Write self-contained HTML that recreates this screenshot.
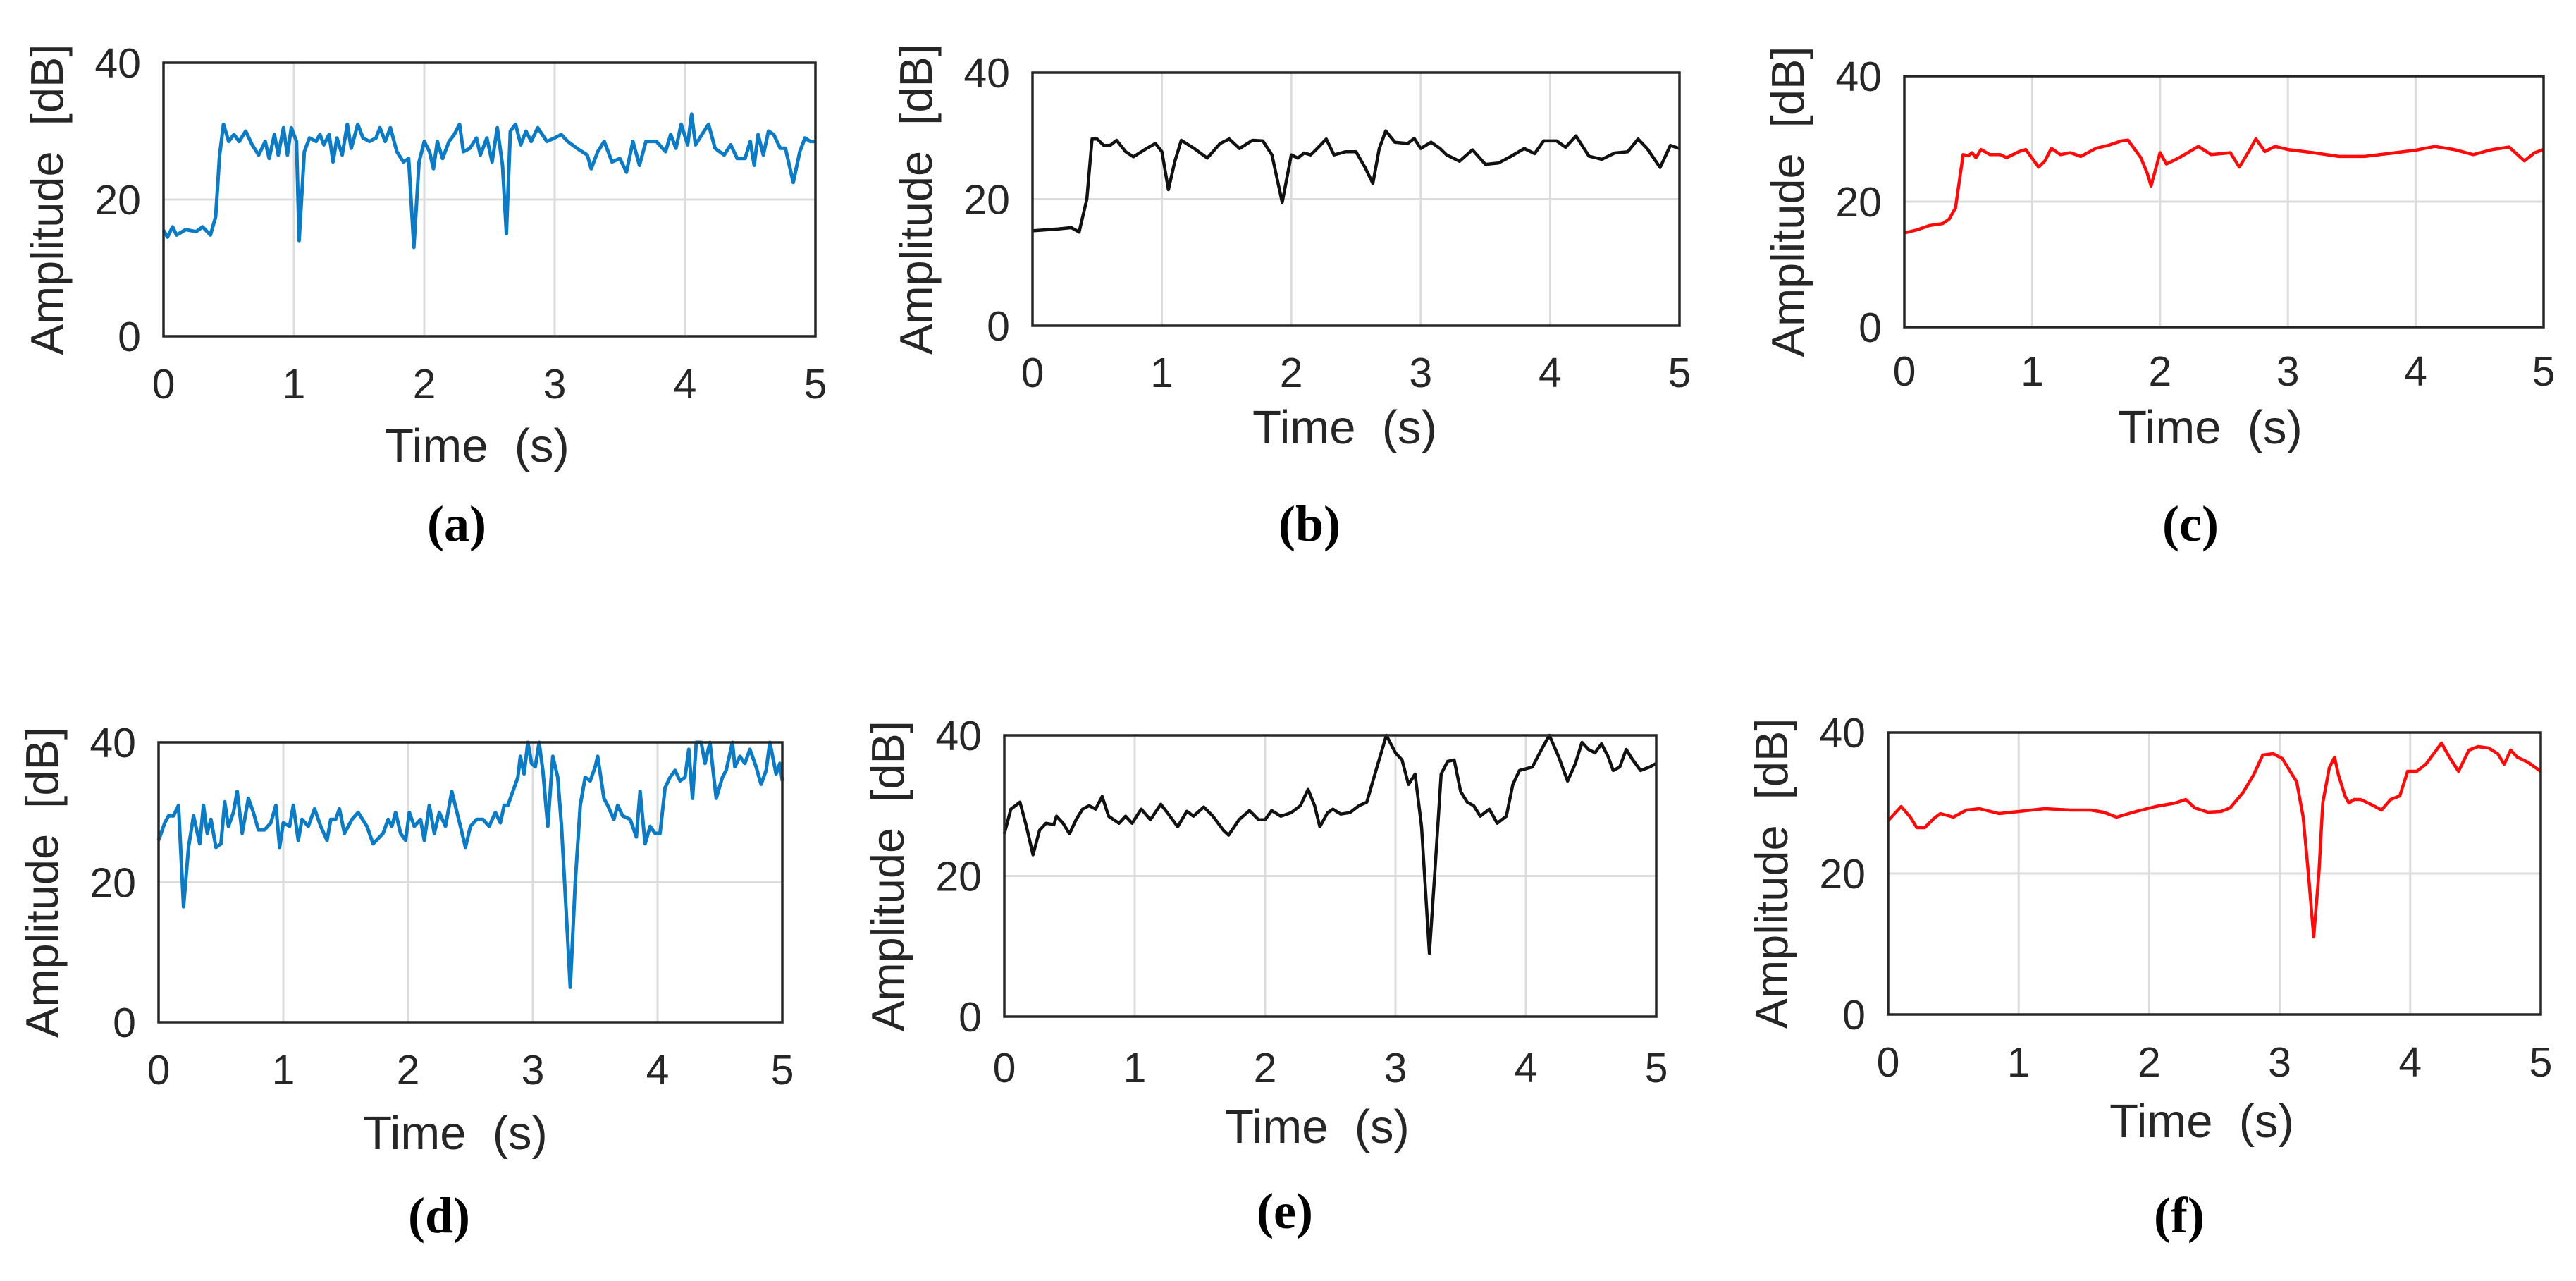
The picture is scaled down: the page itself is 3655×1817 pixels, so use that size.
<!DOCTYPE html>
<html><head><meta charset="utf-8">
<style>
html,body{margin:0;padding:0;background:#fff;}
svg{display:block;}
text{font-family:"Liberation Sans",sans-serif;fill:#262626;white-space:pre;}
.lbl{font-family:"Liberation Serif",serif;font-weight:bold;fill:#000;}
</style></head>
<body>
<svg id="fig" width="3655" height="1817" viewBox="0 0 3655 1817" xmlns="http://www.w3.org/2000/svg"></svg>
<script>
const xTicks=[0,1,2,3,4,5];
const yTicks=[0,20,40];
const tA=[0,0.03,0.07,0.1,0.17,0.25,0.3,0.36,0.4,0.43,0.46,0.5,0.54,0.58,0.63,0.68,0.73,0.78,0.81,0.85,0.88,0.92,0.95,0.98,1.02,1.04,1.08,1.12,1.17,1.2,1.23,1.27,1.3,1.33,1.37,1.41,1.44,1.49,1.53,1.58,1.63,1.66,1.7,1.74,1.79,1.84,1.88,1.92,1.96,2.0,2.04,2.07,2.1,2.14,2.19,2.23,2.27,2.3,2.35,2.4,2.43,2.48,2.52,2.56,2.6,2.63,2.66,2.7,2.74,2.78,2.82,2.87,2.94,3.0,3.05,3.1,3.17,3.25,3.28,3.33,3.38,3.44,3.5,3.55,3.6,3.65,3.7,3.78,3.85,3.89,3.93,3.97,4.02,4.05,4.08,4.13,4.18,4.23,4.3,4.35,4.4,4.46,4.5,4.53,4.56,4.6,4.64,4.68,4.73,4.77,4.83,4.88,4.92,4.96,5.0];
const vA=[15.5,14.5,16,14.8,15.6,15.3,16,14.8,17.5,26.5,31,28.5,29.5,28.5,30,28,26.5,28.5,26,29.5,26.5,30.5,26.5,30.5,28.5,14,27,29,28.5,29.5,28,29.5,25.5,29,26.5,31,27.5,31,29,28.5,29,30.5,28.5,30.5,27,25.5,26,13,25.5,28.5,27,24.5,28.5,26,28.5,29.5,31,27,27.5,29,26.5,29,25.5,30.5,25,15,30,31,28,30,28.5,30.5,28.5,29,29.5,28.5,27.5,26.5,24.5,27,28.5,25.5,26,24,28.5,25,28.5,28.5,27,29.5,27.5,31,28,32.5,28,29.5,31,27.5,26.5,28,26,26,28.5,25,29.5,26.5,30,29.5,27.5,27.5,22.5,27,29,28.5,28.5];
const tB=[0,0.2,0.3,0.36,0.42,0.46,0.5,0.55,0.6,0.65,0.72,0.78,0.88,0.95,1.0,1.05,1.1,1.15,1.25,1.35,1.45,1.52,1.6,1.7,1.78,1.85,1.93,2.0,2.05,2.1,2.15,2.2,2.27,2.33,2.42,2.5,2.57,2.63,2.68,2.73,2.8,2.9,2.95,3.0,3.08,3.15,3.2,3.3,3.4,3.5,3.6,3.7,3.8,3.88,3.95,4.05,4.12,4.2,4.3,4.4,4.5,4.6,4.68,4.75,4.85,4.93,5.0];
const vB=[15,15.3,15.5,14.8,20,29.5,29.5,28.5,28.5,29.3,27.5,26.7,28,28.8,27.5,21.5,26,29.3,28,26.5,28.8,29.5,28,29.3,29.2,27,19.5,27,26.5,27.3,27,28,29.5,27,27.5,27.5,25,22.5,28,30.8,29,28.8,29.6,28,29,28,27,26,27.8,25.5,25.7,26.8,28,27.2,29.2,29.2,28.2,30,26.8,26.3,27.3,27.5,29.5,28,25,28.5,28];
const tC=[0,0.1,0.2,0.3,0.35,0.4,0.46,0.5,0.53,0.56,0.6,0.67,0.75,0.8,0.9,0.95,1.05,1.1,1.15,1.22,1.3,1.38,1.5,1.6,1.7,1.75,1.85,1.9,1.93,2.0,2.05,2.15,2.3,2.4,2.55,2.62,2.7,2.75,2.82,2.9,3.0,3.2,3.4,3.6,3.8,4.0,4.15,4.3,4.45,4.6,4.73,4.85,4.93,5.0];
const vC=[15,15.5,16.2,16.5,17.2,19,27.5,27.3,27.8,27,28.3,27.5,27.5,27,28,28.3,25.5,26.5,28.5,27.5,27.8,27.2,28.5,29,29.7,29.8,27,24.5,22.5,27.8,26,27,28.8,27.5,27.8,25.5,28.2,30,28,28.8,28.3,27.8,27.2,27.2,27.7,28.2,28.8,28.3,27.5,28.3,28.7,26.5,27.8,28.3];
const tD=[0,0.05,0.08,0.12,0.16,0.2,0.24,0.28,0.33,0.36,0.39,0.42,0.46,0.5,0.53,0.56,0.6,0.63,0.67,0.72,0.76,0.8,0.85,0.9,0.94,0.97,1.0,1.05,1.08,1.12,1.15,1.2,1.25,1.3,1.35,1.38,1.42,1.45,1.49,1.55,1.6,1.67,1.72,1.8,1.84,1.87,1.9,1.94,1.98,2.01,2.05,2.1,2.13,2.17,2.21,2.25,2.3,2.35,2.42,2.46,2.5,2.55,2.6,2.65,2.7,2.74,2.77,2.8,2.84,2.88,2.9,2.93,2.96,2.99,3.02,3.05,3.08,3.12,3.16,3.2,3.23,3.27,3.3,3.34,3.38,3.42,3.46,3.5,3.52,3.57,3.6,3.65,3.68,3.72,3.78,3.83,3.86,3.9,3.94,3.98,4.02,4.06,4.1,4.14,4.18,4.22,4.25,4.28,4.31,4.35,4.38,4.42,4.47,4.52,4.55,4.6,4.62,4.66,4.7,4.74,4.79,4.83,4.87,4.9,4.95,4.98,5.0];
const vD=[26,28.5,29.5,29.5,31,16.5,25,29.5,25.5,31,27,29,25,25.5,31.5,28,30,33,27,32,30,27.5,27.5,28.5,31,25,28.5,28,31,26,29,28,30.5,28,26,29,29,30.5,27,29,30,28,25.5,27,29,28,30,27,26,30,28,29,26,31,27,30,28,33,28,25,28,29,29,28,30,28.5,31,31,33,35,38,35.5,40,37,36.5,40,36,28,38,35,28,15,5,20,31,35,34.5,36.5,38,32,31,29,31,29.5,29,26.5,33,25.5,28,27,27,33.5,35,36,34.5,35,39,32,40,40,37,40,32,35,36,40,36.5,38,37,39,36.5,34,36,40,35.5,37,34.5];
const tE=[0,0.05,0.12,0.17,0.22,0.27,0.32,0.38,0.4,0.45,0.5,0.55,0.6,0.65,0.7,0.75,0.8,0.88,0.93,0.98,1.05,1.12,1.2,1.25,1.33,1.4,1.45,1.53,1.6,1.68,1.72,1.8,1.88,1.95,2.0,2.05,2.12,2.2,2.27,2.33,2.38,2.42,2.48,2.52,2.58,2.65,2.72,2.78,2.85,2.93,3.0,3.05,3.1,3.15,3.2,3.26,3.3,3.35,3.4,3.45,3.5,3.55,3.6,3.65,3.72,3.78,3.85,3.9,3.95,4.05,4.12,4.18,4.25,4.32,4.38,4.43,4.48,4.53,4.58,4.63,4.67,4.72,4.77,4.82,4.88,4.95,5.0];
const vE=[26,29.5,30.5,27,23,26.5,27.5,27.3,28.5,27.5,26,28,29.5,30,29.5,31.3,28.5,27.5,28.5,27.5,29.5,28,30.2,29,27,29.2,28.5,29.8,28.5,26.5,25.8,28,29.3,28,28,29.3,28.5,29,30,32.3,30,27,29,29.5,28.8,29,30,30.5,35,40,37.5,36.5,33,34.5,27,9,20,34.5,36.3,36.5,32,30.5,30,28.5,29.5,27.5,28.5,33,35,35.5,38,40,37,33.5,36,39,38,37.5,38.8,37,35,35.5,38,36.5,35,35.5,36];
const tF=[0,0.05,0.1,0.17,0.22,0.28,0.35,0.4,0.5,0.6,0.7,0.85,1.0,1.2,1.4,1.55,1.65,1.75,1.9,2.05,2.2,2.28,2.35,2.45,2.55,2.62,2.72,2.8,2.87,2.95,3.02,3.08,3.13,3.18,3.22,3.26,3.3,3.33,3.38,3.42,3.45,3.5,3.53,3.57,3.62,3.7,3.78,3.85,3.92,3.98,4.05,4.12,4.2,4.24,4.3,4.37,4.45,4.52,4.6,4.67,4.72,4.77,4.82,4.9,5.0];
const vF=[27.5,28.5,29.5,28,26.5,26.5,27.8,28.5,28,29,29.2,28.5,28.8,29.2,29,29,28.7,28,28.8,29.5,30,30.5,29.3,28.7,28.8,29.3,31.5,34,36.8,37,36.3,34.5,33,28,20,11,20,30,35,36.5,34,31,30,30.5,30.5,29.8,29,30.5,31,34.5,34.5,35.5,37.5,38.5,36.5,34.5,37.5,38,37.8,37,35.5,37.5,36.5,35.8,34.5];

const panels=[
 {id:'a',L:232,R:1157,T:89,B:477,tickY:544,timeX:677,timeY:631,lblX:648,lblY:743,t:tA,v:vA,c:'#0a7bc4',w:5},
 {id:'b',L:1465,R:2383,T:103,B:462,tickY:528,timeX:1908,timeY:605,lblX:1858,lblY:743,t:tB,v:vB,c:'#111',w:4.5},
 {id:'c',L:2702,R:3609,T:108,B:464,tickY:526,timeX:3136,timeY:605,lblX:3108,lblY:743,t:tC,v:vC,c:'#ff0a0a',w:4.5},
 {id:'d',L:225,R:1110,T:1053,B:1450,tickY:1517,timeX:646,timeY:1606,lblX:623,lblY:1724,t:tD,v:vD,c:'#0a7bc4',w:5},
 {id:'e',L:1425,R:2350,T:1043,B:1442,tickY:1514,timeX:1869,timeY:1597,lblX:1823,lblY:1718,t:tE,v:vE,c:'#111',w:4.5},
 {id:'f',L:2679,R:3605,T:1039,B:1439,tickY:1506,timeX:3124,timeY:1589,lblX:3092,lblY:1724,t:tF,v:vF,c:'#ff0a0a',w:4.5}
];
const NS='http://www.w3.org/2000/svg';
const svg=document.getElementById('fig');
function mk(tag,attrs,parent){const e=document.createElementNS(NS,tag);for(const k in attrs)e.setAttribute(k,attrs[k]);parent.appendChild(e);return e;}
panels.forEach(p=>{
  const g=mk('g',{},svg);
  
  
  const xs=t=>p.L+(t/5)*(p.R-p.L);
  const ys=v=>p.B-(v/40)*(p.B-p.T);
  xTicks.forEach(t=>{
    const gl=mk('line',{x1:xs(t),x2:xs(t),y1:p.T,y2:p.B,stroke:'#dcdcdc','stroke-width':3},g);
    
    
    const tx=mk('text',{x:xs(t),y:p.tickY+21,'font-size':59,'text-anchor':'middle'},g);
    tx.textContent=t;
    
    
  });
  yTicks.forEach(v=>{
    if(v>0&&v<40){
      const gl=mk('line',{x1:p.L,x2:p.R,y1:ys(v),y2:ys(v),stroke:'#dcdcdc','stroke-width':3},g);
      
      
    }
    const tx=mk('text',{x:p.L-32,y:ys(v)+21,'font-size':59,'text-anchor':'end'},g);
    tx.textContent=v;
    
    
  });
  const d=p.t.map((t,i)=>(i?'L':'M')+xs(t).toFixed(1)+','+ys(p.v[i]).toFixed(1)).join(' ');
  const path=mk('path',{d:d,fill:'none',stroke:p.c,'stroke-width':p.w,'stroke-linejoin':'round'},g);
  
  
  const box=mk('rect',{x:p.L,y:p.T,width:p.R-p.L,height:p.B-p.T,fill:'none',stroke:'#262626','stroke-width':3.5},g);
  
  
  const cy=(p.T+p.B)/2, cx=p.L-165;
  const yt=mk('text',{x:cx,y:cy+22,'font-size':65,'text-anchor':'middle',transform:'rotate(-90 '+cx+' '+cy+')'},g);
  yt.textContent='Amplitude  [dB]';
  
  
  const xt=mk('text',{x:p.timeX,y:p.timeY+24,'font-size':67,'text-anchor':'middle'},g);
  xt.textContent='Time  (s)';
  
  
  const lb=mk('text',{x:p.lblX,y:p.lblY+24,'font-size':72,'text-anchor':'middle','class':'lbl'},g);
  lb.textContent='('+p.id+')';
  
  
});
</script>
</body></html>
